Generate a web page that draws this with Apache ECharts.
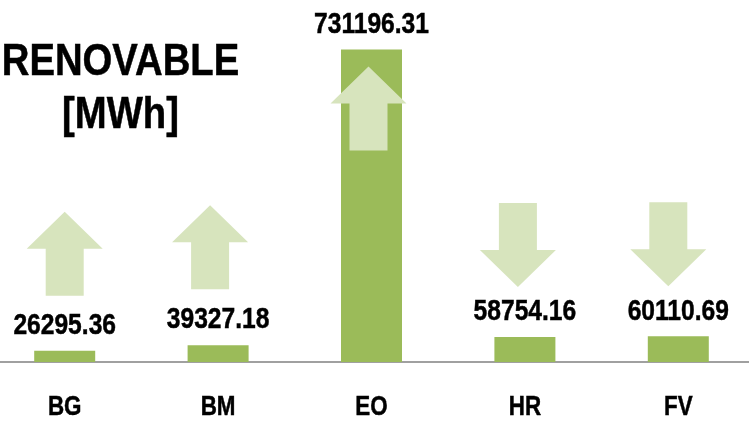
<!DOCTYPE html>
<html>
<head>
<meta charset="utf-8">
<script src="https://cdn.jsdelivr.net/npm/echarts@6/dist/echarts.min.js"></script>
<style>
  html, body { margin: 0; padding: 0; background: #ffffff; }
  #chart { width: 749px; height: 422px; }
</style>
</head>
<body>
<div id="chart"></div>
<script>
// Renewable generation per source, in MWh
const categories = ['BG', 'BM', 'EO', 'HR', 'FV'];
const values = [26295.36, 39327.18, 731196.31, 58754.16, 60110.69];
// Trend direction shown by the arrow above each source
const trends = ['up', 'up', 'up', 'down', 'down'];

// Layout and styling
const FONT = "'Liberation Sans', Arial, sans-serif";
const NARROW = 0.82;          // horizontal squeeze giving a narrow bold face
const BAR_COLOR = '#9BBB59';
const ARROW_COLOR = '#D7E4BD';
const ARROW_NUDGE = [[0, -2], [-8, -3], [-3, 0], [-7, 3], [-10, 3]];

// Block arrow outline centred on (0,0): 76 wide head, 38 wide shaft, 84 tall
function arrowPoints(dir) {
  const hw = 38, sw = 19, h = 42, head = 37;
  const pts = [
    [0, -h], [hw, -h + head], [sw, -h + head], [sw, h],
    [-sw, h], [-sw, -h + head], [-hw, -h + head]
  ];
  return dir === 'down' ? pts.map(p => [p[0], -p[1]]) : pts;
}

function narrowText(x, y, text, size, squeeze) {
  return {
    type: 'text',
    x: x,
    y: y,
    scaleX: squeeze,
    style: {
      text: text,
      fill: '#000000',
      stroke: '#000000',
      lineWidth: 0.5,
      font: 'bold ' + size + 'px ' + FONT,
      align: 'center',
      verticalAlign: 'middle'
    }
  };
}

const chart = echarts.init(document.getElementById('chart'), null, { renderer: 'canvas' });

chart.setOption({
  animation: false,
  backgroundColor: '#ffffff',
  grid: { left: -12, right: -6, top: 20, bottom: 60, outerBoundsMode: 'none' },
  graphic: [
    narrowText(120.5, 62.5, 'RENOVABLE', 44, 0.87),
    narrowText(120.5, 116, '[MWh]', 44, 0.87)
  ],
  xAxis: {
    type: 'category',
    data: categories,
    axisLine: { show: true, lineStyle: { color: '#A0A0A0', width: 2 } },
    axisTick: { show: false },
    axisLabel: { show: false }
  },
  yAxis: {
    type: 'value',
    min: 0,
    max: 800000,
    show: false,
    splitLine: { show: false }
  },
  series: [{
    type: 'bar',
    data: values,
    barWidth: 61,
    itemStyle: { color: BAR_COLOR },
    z: 2
  }, {
    type: 'custom',
    data: values.map((v, i) => [i, v]),
    z: 3,
    silent: true,
    renderItem: function (params, api) {
      const i = api.value(0);
      const v = api.value(1);
      const top = api.coord([i, v]);
      const base = api.coord([i, 0]);
      const tall = base[1] - top[1] > 150;
      // Tall bars carry their arrow inside; short bars get it above the value label
      const cy = (tall ? top[1] + 59 : top[1] - 95) + ARROW_NUDGE[i][1];
      const cx = top[0] + ARROW_NUDGE[i][0];
      const pts = arrowPoints(trends[i]).map(p => [cx + p[0], cy + p[1]]);
      return {
        type: 'group',
        children: [
          { type: 'polygon', shape: { points: pts }, style: { fill: ARROW_COLOR } },
          narrowText(top[0], top[1] - 25, v.toFixed(2), 30, NARROW),
          narrowText(base[0], base[1] + 45, categories[i], 28, 0.8)
        ]
      };
    }
  }]
});
</script>
</body>
</html>
